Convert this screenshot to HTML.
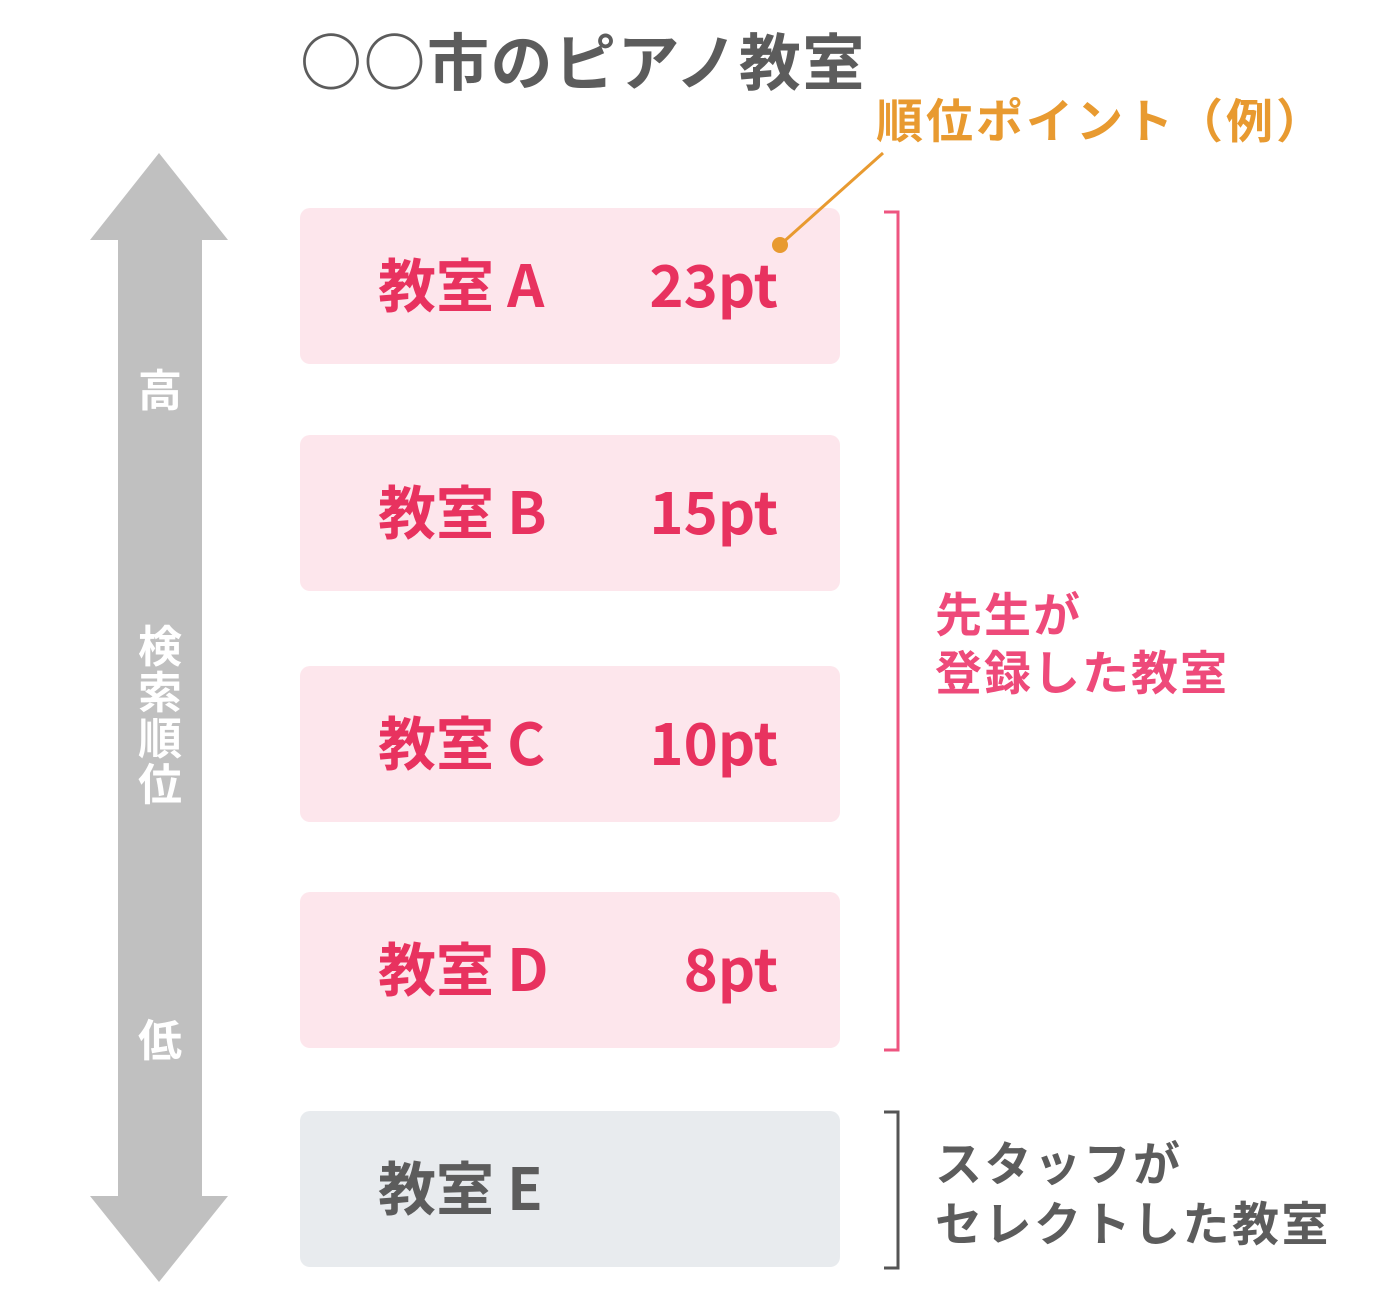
<!DOCTYPE html>
<html><head><meta charset="utf-8"><style>
body{margin:0;width:1400px;height:1294px;background:#fff;position:relative;overflow:hidden;font-family:"Noto Sans CJK JP","Liberation Sans",sans-serif;font-weight:bold}
.a{position:absolute;white-space:nowrap}
.box{position:absolute;left:300px;width:540px;height:156px;border-radius:10px;background:#fde6ec}
.t{position:absolute;font-size:58px;line-height:58px;color:#e8325f}
.n{position:absolute;font-size:58px;line-height:58px;color:#e8325f;right:62px;text-align:right}
</style></head><body>
<div class="a" style="left:300px;top:20px;font-size:62px;line-height:76px;color:#5c5c5c;letter-spacing:1.5px">○○市のピアノ教室</div>
<div class="a" style="left:876px;top:88px;font-size:47px;line-height:60px;color:#e89a30;letter-spacing:3px">順位ポイント（例）</div>
<div class="box" style="top:208px"><div class="t" style="left:78px;top:45px">教室 A</div><div class="n" style="top:45px">23pt</div></div>
<div class="box" style="top:435px"><div class="t" style="left:78px;top:45px">教室 B</div><div class="n" style="top:45px">15pt</div></div>
<div class="box" style="top:666px"><div class="t" style="left:78px;top:45px">教室 C</div><div class="n" style="top:45px">10pt</div></div>
<div class="box" style="top:892px"><div class="t" style="left:78px;top:45px">教室 D</div><div class="n" style="top:45px">8pt</div></div>
<div class="box" style="top:1111px;background:#e8ebee"><div class="t" style="left:78px;top:45px;color:#5c5c5c">教室 E</div></div>
<svg class="a" style="left:0;top:0" width="1400" height="1294">
<polygon points="159,153 228,240 202,240 202,1196 228,1196 159,1282 90,1196 118,1196 118,240 90,240" fill="#c0c0c0"/>
<line x1="883" y1="153" x2="780" y2="245" stroke="#e89a30" stroke-width="3"/>
<circle cx="780" cy="245" r="8" fill="#e89a30"/>
<polyline points="884,212 898,212 898,1050 884,1050" fill="none" stroke="#ee5580" stroke-width="3"/>
<polyline points="884,1112 898,1112 898,1268 884,1268" fill="none" stroke="#555" stroke-width="3"/>
</svg>
<div class="a" style="left:935px;top:583px;font-size:47px;line-height:58px;color:#ee4a7a;letter-spacing:2px">先生が<br>登録した教室</div>
<div class="a" style="left:935px;top:1131px;font-size:47px;line-height:60px;color:#5c5c5c;letter-spacing:2.5px">スタッフが<br>セレクトした教室</div>
<div class="a" style="left:137px;top:364px;font-size:44px;line-height:46px;color:#fff;width:46px;text-align:center">高</div>
<div class="a" style="left:137px;top:620px;font-size:44px;line-height:46px;color:#fff;width:46px;text-align:center">検<br>索<br>順<br>位</div>
<div class="a" style="left:137px;top:1014px;font-size:44px;line-height:46px;color:#fff;width:46px;text-align:center">低</div>
</body></html>
